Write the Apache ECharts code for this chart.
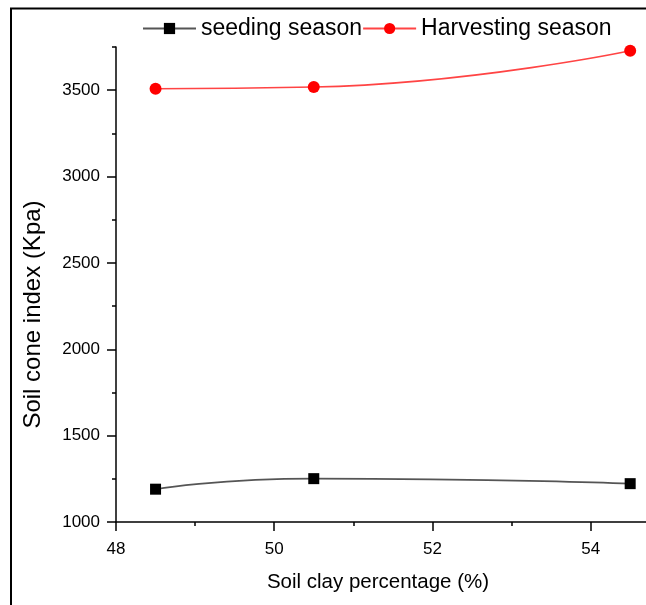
<!DOCTYPE html>
<html>
<head>
<meta charset="utf-8">
<script src="https://cdn.jsdelivr.net/npm/echarts@6/dist/echarts.min.js"></script>
<style>
html,body{margin:0;padding:0;background:#fff;}
#chart{width:646px;height:605px;}
</style>
</head>
<body>
<div id="chart"></div>
<script>
var clayPct = [48.5, 50.5, 54.5];
var seedingSeason = [1190, 1251, 1222];
var harvestingSeason = [3508, 3518, 3728];
var xMajorTicks = [48, 50, 52, 54];
var xMinorTicks = [49, 51, 53];
var yMajorTicks = [1000, 1500, 2000, 2500, 3000, 3500];
var yMinorTicks = [1250, 1750, 2250, 2750, 3250, 3750];
var seriesNames = ['seeding season', 'Harvesting season'];

function pairs(xs, ys) { return xs.map(function (x, i) { return [x, ys[i]]; }); }

var FONT = '"Liberation Sans", Arial, sans-serif';
var chart = echarts.init(document.getElementById('chart'), null, {renderer: 'canvas'});
var grid = {left: 116, right: 0, top: 47, bottom: 83};

var xBase = {type: 'value', min: 48, max: 54.7, gridIndex: 0, position: 'bottom', splitLine: {show: false}};
var yBase = {type: 'value', min: 1000, max: 3750, gridIndex: 0, position: 'left', splitLine: {show: false}};
function plain(v) { return String(v); }

chart.setOption({
  backgroundColor: '#fff',
  animation: false,
  textStyle: {fontFamily: FONT},
  graphic: [{
    type: 'rect', z: 100, silent: true,
    shape: {x: 11, y: 8.5, width: 1000, height: 1000},
    style: {fill: 'none', stroke: '#000', lineWidth: 2}
  }],
  grid: grid,
  legend: {
    top: 17, left: 142, padding: 0, itemGap: 0, itemWidth: 53, itemHeight: 14,
    data: seriesNames,
    textStyle: {fontFamily: FONT, fontSize: 23, color: '#000'}
  },
  xAxis: [
    Object.assign({}, xBase, {
      name: 'Soil clay percentage (%)', nameLocation: 'middle', nameGap: 50,
      nameTextStyle: {fontFamily: FONT, fontSize: 20.5, color: '#000', padding: [0, 6, 0, 0]},
      axisLine: {show: true, lineStyle: {color: '#000', width: 1.5}},
      axisTick: {show: true, inside: false, length: 9, customValues: xMajorTicks, lineStyle: {color: '#000', width: 1.5}},
      axisLabel: {show: true, customValues: xMajorTicks, formatter: plain, margin: 19, fontFamily: FONT, fontSize: 17, color: '#000'}
    }),
    Object.assign({}, xBase, {
      axisLine: {show: false},
      axisTick: {show: true, inside: false, length: 4, customValues: xMinorTicks, lineStyle: {color: '#000', width: 1.5}},
      axisLabel: {show: false}
    })
  ],
  yAxis: [
    Object.assign({}, yBase, {
      name: 'Soil cone index (Kpa)', nameLocation: 'middle', nameGap: 71,
      nameTextStyle: {fontFamily: FONT, fontSize: 24, color: '#000', padding: [0, 60, 0, 0]},
      axisLine: {show: true, lineStyle: {color: '#000', width: 1.5}},
      axisTick: {show: true, inside: false, length: 9, customValues: yMajorTicks, lineStyle: {color: '#000', width: 1.5}},
      axisLabel: {show: true, customValues: yMajorTicks, formatter: plain, margin: 16, fontFamily: FONT, fontSize: 17, color: '#000'}
    }),
    Object.assign({}, yBase, {
      axisLine: {show: false},
      axisTick: {show: true, inside: false, length: 4, customValues: yMinorTicks, lineStyle: {color: '#000', width: 1.5}},
      axisLabel: {show: false}
    })
  ],
  series: [
    {
      name: seriesNames[0], type: 'line', xAxisIndex: 0, yAxisIndex: 0,
      data: pairs(clayPct, seedingSeason), smooth: 0.6,
      symbol: 'rect', symbolSize: 11,
      itemStyle: {color: '#000'},
      lineStyle: {color: '#555', width: 1.6}
    },
    {
      name: seriesNames[1], type: 'line', xAxisIndex: 0, yAxisIndex: 0,
      data: pairs(clayPct, harvestingSeason), smooth: 0.5,
      symbol: 'circle', symbolSize: 12,
      itemStyle: {color: '#ff0000'},
      lineStyle: {color: '#f44', width: 1.6}
    }
  ]
});
</script>
</body>
</html>
